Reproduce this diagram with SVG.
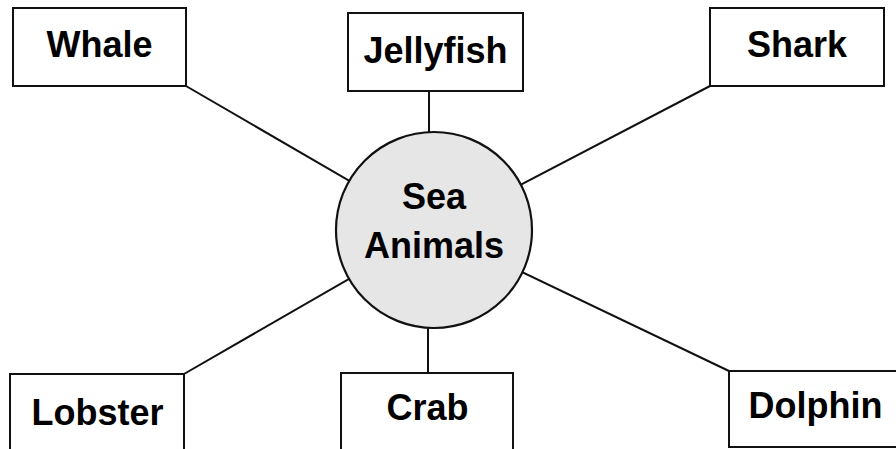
<svg xmlns="http://www.w3.org/2000/svg" width="896" height="449" viewBox="0 0 896 449">
<style>
.box{fill:#fff;stroke:#111;stroke-width:2}
.hub{fill:#e6e6e6;stroke:#111;stroke-width:2.2}
.edge{stroke:#111;stroke-width:2;fill:none}
text{font-family:"Liberation Sans",Arial,sans-serif;font-weight:bold;font-size:36px;fill:#000;text-anchor:middle}
</style>
<rect width="896" height="449" fill="#fff"/>
<g id="connectors">
<line class="edge" x1="186" y1="86" x2="434" y2="230"/>
<line class="edge" x1="429" y1="91" x2="429" y2="132"/>
<line class="edge" x1="710" y1="86" x2="434" y2="230"/>
<line class="edge" x1="184" y1="374" x2="434" y2="230"/>
<line class="edge" x1="428" y1="328" x2="428" y2="373"/>
<line class="edge" x1="729" y1="371" x2="434" y2="230"/>
</g>
<g id="hub">
<circle class="hub" cx="434" cy="230" r="98"/>
<text x="434" y="209">Sea</text>
<text x="434" y="258">Animals</text>
</g>
<g id="whale">
<rect class="box" x="13" y="8" width="173" height="78"/>
<text x="99.5" y="57">Whale</text>
</g>
<g id="jellyfish">
<rect class="box" x="348" y="13" width="175" height="78"/>
<text x="435.5" y="62.5">Jellyfish</text>
</g>
<g id="shark">
<rect class="box" x="710" y="8" width="174" height="78"/>
<text x="797" y="57">Shark</text>
</g>
<g id="lobster">
<rect class="box" x="10" y="374" width="174" height="90"/>
<text x="97.5" y="425">Lobster</text>
</g>
<g id="crab">
<rect class="box" x="341" y="373" width="172" height="90"/>
<text x="427.5" y="420">Crab</text>
</g>
<g id="dolphin">
<rect class="box" x="729" y="371" width="180" height="76"/>
<text x="815.5" y="418">Dolphin</text>
</g>
</svg>
